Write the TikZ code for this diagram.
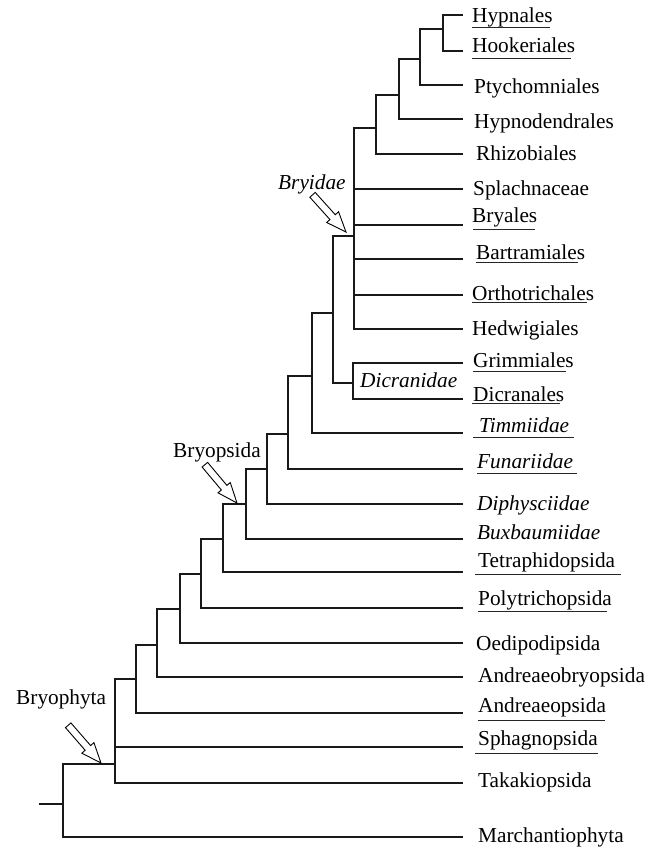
\documentclass[tikz,border=0pt]{standalone}
\usepackage{fontspec}
\setmainfont{Liberation Serif}
\begin{document}
\begin{tikzpicture}[x=1pt,y=-1pt,
  edge/.style={line width=1.2pt,draw=black!90},
  uline/.style={line width=1pt,draw=black!85},
  lab/.style={anchor=base west,inner sep=0pt,font=\fontsize{21.3}{25}\selectfont},
  ilab/.style={lab,font=\fontsize{21.3}{25}\selectfont\itshape},
  blockarrow/.pic={\draw[line width=0.9pt,fill=white,line join=miter]
     (0,0) -- (-20,8) -- (-20,3.6) -- (-50,3.6) -- (-50,-3.6) -- (-20,-3.6) -- (-20,-8) -- cycle;}]
\useasboundingbox (0,0) rectangle (658,847);

% internal nodes
\coordinate (n1) at (443,29);
\coordinate (n2) at (420,59);
\coordinate (n3) at (399,95);
\coordinate (n4) at (376,128);
\coordinate (bry) at (354,236);
\coordinate (dic) at (353,383);
\coordinate (n5) at (333,313);
\coordinate (n6) at (312,376);
\coordinate (n7) at (288,434);
\coordinate (n8) at (267,469);
\coordinate (bro) at (246,504);
\coordinate (n9) at (223,539);
\coordinate (n10) at (201,574);
\coordinate (n11) at (180,609);
\coordinate (n12) at (157,645);
\coordinate (n13) at (136,679);
\coordinate (phy) at (115,764);
\coordinate (root) at (63,804);
\coordinate (stub) at (39,804);

% leaf ends
\coordinate (l1) at (463,15);
\coordinate (l2) at (463,51);
\coordinate (l3) at (463,85);
\coordinate (l4) at (463,119);
\coordinate (l5) at (463,154);
\coordinate (l6) at (463,189);
\coordinate (l7) at (463,225);
\coordinate (l8) at (463,259);
\coordinate (l9) at (463,295);
\coordinate (l10) at (463,329);
\coordinate (l11) at (463,363);
\coordinate (l12) at (463,399);
\coordinate (l13) at (463,433);
\coordinate (l14) at (463,469);
\coordinate (l15) at (463,504);
\coordinate (l16) at (463,539);
\coordinate (l17) at (463,572);
\coordinate (l18) at (463,608);
\coordinate (l19) at (463,643);
\coordinate (l20) at (463,677);
\coordinate (l21) at (463,713);
\coordinate (l22) at (463,747);
\coordinate (l23) at (463,783);
\coordinate (l24) at (463,837);

% edges
\draw[edge] (n1) |- (l1) (n1) |- (l2);
\draw[edge] (n2) |- (n1) (n2) |- (l3);
\draw[edge] (n3) |- (n2) (n3) |- (l4);
\draw[edge] (n4) |- (n3) (n4) |- (l5);
\draw[edge] (bry) |- (n4) (bry) |- (l6) (bry) |- (l7) (bry) |- (l8) (bry) |- (l9) (bry) |- (l10);
\draw[edge] (dic) |- (l11) (dic) |- (l12);
\draw[edge] (n5) |- (bry) (n5) |- (dic);
\draw[edge] (n6) |- (n5) (n6) |- (l13);
\draw[edge] (n7) |- (n6) (n7) |- (l14);
\draw[edge] (n8) |- (n7) (n8) |- (l15);
\draw[edge] (bro) |- (n8) (bro) |- (l16);
\draw[edge] (n9) |- (bro) (n9) |- (l17);
\draw[edge] (n10) |- (n9) (n10) |- (l18);
\draw[edge] (n11) |- (n10) (n11) |- (l19);
\draw[edge] (n12) |- (n11) (n12) |- (l20);
\draw[edge] (n13) |- (n12) (n13) |- (l21);
\draw[edge] (phy) |- (n13) (phy) |- (l22) (phy) |- (l23);
\draw[edge] (root) |- (phy) (root) |- (l24);
\draw[edge] (stub) -- (root);

% leaf labels
\node[lab] (t1) at (472,22) {Hypnales};
\node[lab] (t2) at (472,52) {Hookeriales};
\node[lab] (t3) at (474,93) {Ptychomniales};
\node[lab] (t4) at (474,128) {Hypnodendrales};
\node[lab] (t5) at (476,160) {Rhizobiales};
\node[lab] (t6) at (473,195) {Splachnaceae};
\node[lab] (t7) at (472,222) {Bryales};
\node[lab] (t8) at (476,259) {Bartramiales};
\node[lab] (t9) at (472,300) {Orthotrichales};
\node[lab] (t10) at (472,335) {Hedwigiales};
\node[lab] (t11) at (473,367) {Grimmiales};
\node[lab] (t12) at (473,401) {Dicranales};
\node[ilab] (t13) at (479,432) {Timmiidae};
\node[ilab] (t14) at (477,468) {Funariidae};
\node[ilab] (t15) at (477,510) {Diphysciidae};
\node[ilab] (t16) at (477,539) {Buxbaumiidae};
\node[lab] (t17) at (478,567) {Tetraphidopsida};
\node[lab] (t18) at (478,605) {Polytrichopsida};
\node[lab] (t19) at (476,650) {Oedipodipsida};
\node[lab] (t20) at (478,682) {Andreaeobryopsida};
\node[lab] (t21) at (478,712) {Andreaeopsida};
\node[lab] (t22) at (478,745) {Sphagnopsida};
\node[lab] (t23) at (478,787) {Takakiopsida};
\node[lab] (t24) at (478,842) {Marchantiophyta};

% underlines
\draw[uline] (472,27) -- (550,27);
\draw[uline] (472,58) -- (571,58);
\draw[uline] (473,229) -- (535,229);
\draw[uline] (476,262) -- (578,262);
\draw[uline] (472,302) -- (587,302);
\draw[uline] (473,371) -- (566,371);
\draw[uline] (472,403) -- (560,403);
\draw[uline] (473,437) -- (574,437);
\draw[uline] (477,473) -- (577,473);
\draw[uline] (475,574) -- (621,574);
\draw[uline] (478,611) -- (607,611);
\draw[uline] (478,720) -- (605,720);
\draw[uline] (475,753) -- (598,753);

% clade labels
\node[ilab] (cBryidae) at (278,189) {Bryidae};
\node[ilab] (cDicranidae) at (360,387) {Dicranidae};
\node[lab] (cBryopsida) at (173,457) {Bryopsida};
\node[lab] (cBryophyta) at (16,704) {Bryophyta};

% arrows
\pic[rotate=-48] at (346,232) {blockarrow};
\pic[rotate=-50] at (237,503) {blockarrow};
\pic[rotate=-49] at (101,763) {blockarrow};
\end{tikzpicture}
\end{document}
